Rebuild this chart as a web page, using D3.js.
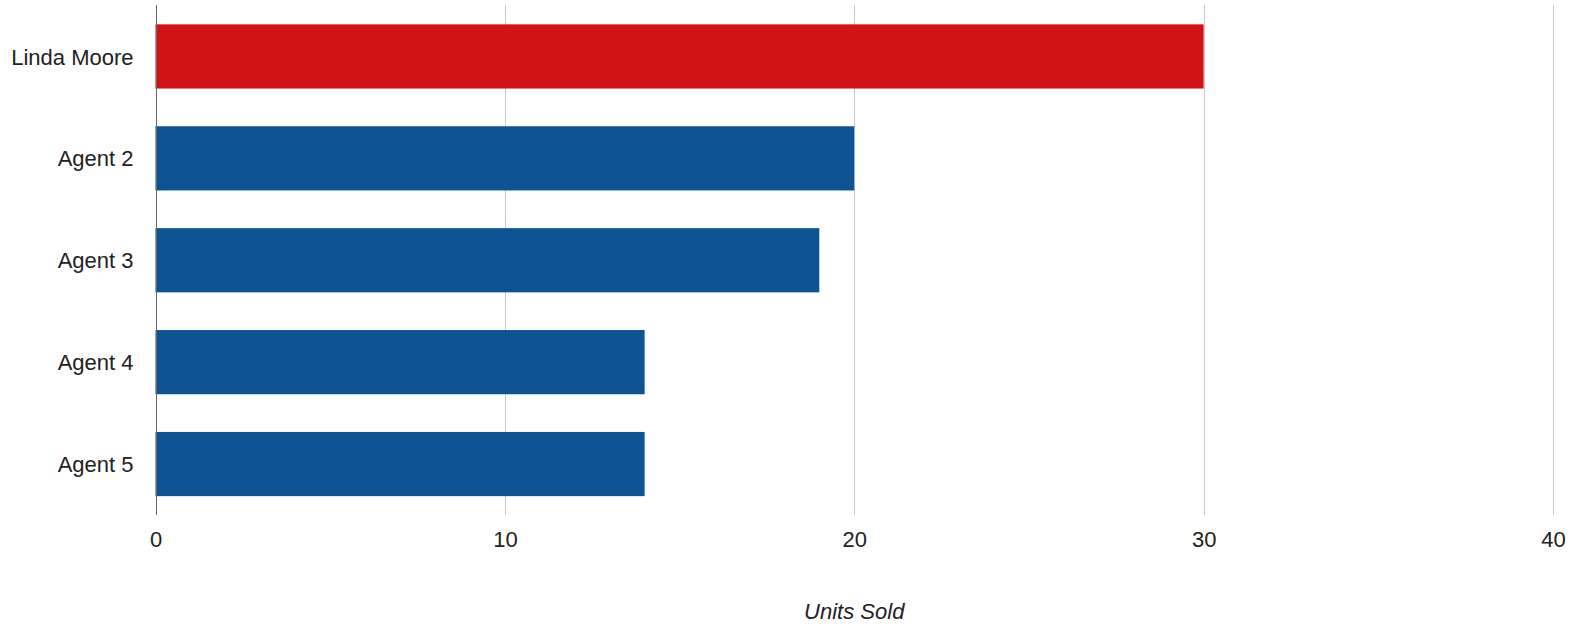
<!DOCTYPE html>
<html>
<head>
<meta charset="utf-8">
<script src="https://cdn.jsdelivr.net/npm/d3@7.9.0/dist/d3.min.js"></script>
<style>
  html, body { margin: 0; padding: 0; background: #fff; }
  svg { display: block; }
  text { font-family: "Liberation Sans", Arial, sans-serif; fill: #222; }
</style>
</head>
<body>
<svg width="1570" height="627"></svg>
<script>
const agents = ['Linda Moore', 'Agent 2', 'Agent 3', 'Agent 4', 'Agent 5'];
const unitsSold = [30, 20, 19, 14, 14];
const xTicks = [0, 10, 20, 30, 40];
const barColors = ['#d01415', '#0e5494', '#0e5494', '#0e5494', '#0e5494'];

const data = agents.map((name, i) => ({ name, value: unitsSold[i], color: barColors[i] }));

const width = 1570;
const margin = { top: 5.5, right: 17, bottom: 112, left: 155.5 };
const plotBottom = 627 - margin.bottom;

const svg = d3.select('svg');

const x = d3.scaleLinear()
  .domain([0, 40])
  .range([margin.left, width - margin.right]);

const y = d3.scaleBand()
  .domain(agents)
  .range([margin.top, plotBottom])
  .paddingInner(0.37)
  .paddingOuter(0.185);

// gridlines
svg.append('g')
  .selectAll('line')
  .data(xTicks.filter(d => d !== 0))
  .join('line')
  .attr('x1', d => Math.round(x(d)) + 0.5)
  .attr('x2', d => Math.round(x(d)) + 0.5)
  .attr('y1', 5)
  .attr('y2', plotBottom)
  .attr('stroke', '#cccccc')
  .attr('stroke-width', 1);

// bars
svg.append('g')
  .selectAll('rect')
  .data(data)
  .join('rect')
  .attr('x', x(0))
  .attr('y', d => y(d.name))
  .attr('width', d => x(d.value) - x(0))
  .attr('height', y.bandwidth())
  .attr('fill', d => d.color);

// zero baseline
svg.append('line')
  .attr('x1', Math.round(x(0)) + 0.5)
  .attr('x2', Math.round(x(0)) + 0.5)
  .attr('y1', 5)
  .attr('y2', plotBottom)
  .attr('stroke', '#666666')
  .attr('stroke-width', 1);

// x tick labels
const xAxis = d3.axisBottom(x).tickValues(xTicks).tickSize(0).tickPadding(0);
const gx = svg.append('g')
  .attr('transform', `translate(0,${plotBottom + 32})`)
  .call(xAxis);
gx.select('.domain').remove();
gx.selectAll('text')
  .attr('dy', null)
  .attr('y', 0)
  .attr('fill', '#222')
  .style('font-size', '22px')
  .style('font-family', '"Liberation Sans", Arial, sans-serif');

// y labels
const yAxis = d3.axisLeft(y).tickSize(0).tickPadding(0);
const gy = svg.append('g')
  .attr('transform', `translate(${margin.left - 22},0)`)
  .call(yAxis);
gy.select('.domain').remove();
gy.selectAll('text')
  .attr('dy', '0.37em')
  .attr('fill', '#222')
  .style('font-size', '22px')
  .style('font-family', '"Liberation Sans", Arial, sans-serif');

// axis title
svg.append('text')
  .attr('x', (x(0) + x(40)) / 2)
  .attr('y', 619)
  .attr('text-anchor', 'middle')
  .style('font-size', '22px')
  .style('font-style', 'italic')
  .text('Units Sold');
</script>
</body>
</html>
